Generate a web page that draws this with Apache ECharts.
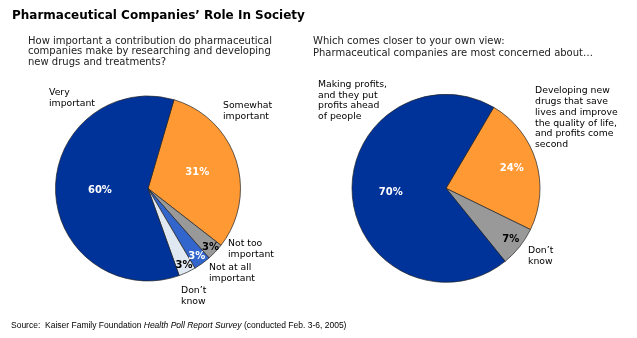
<!DOCTYPE html>
<html><head><meta charset="utf-8">
<script src="https://cdn.jsdelivr.net/npm/echarts@6/dist/echarts.min.js"></script>
<style>html,body{margin:0;padding:0;background:#fff}#chart{width:637px;height:338px}</style>
</head><body><div id="chart"></div>
<script>
// Survey results (percent of respondents)
const importanceCategories = ['Somewhat\nimportant', 'Not too\nimportant', 'Not at all\nimportant', "Don\u2019t\nknow", 'Very\nimportant'];
const importanceValues = [31, 3, 3, 3, 60];

const concernCategories = ['Developing new\ndrugs that save\nlives and improve\nthe quality of life,\nand profits come\nsecond', "Don\u2019t\nknow", 'Making profits,\nand they put\nprofits ahead\nof people'];
const concernValues = [24, 7, 70];

// Slice colours and label styling
const importanceColors = ['#FF9933', '#999999', '#3366CC', '#E0E8F1', '#003399'];
const importanceLabelColors = ['#fff', '#000', '#fff', '#000', '#fff'];
const concernColors = ['#FF9933', '#999999', '#003399'];
const concernLabelColors = ['#fff', '#000', '#fff'];

// Pie geometry
const leftPie = { cx: 148, cy: 188.5, r: 92.5, start: 16.3, labelR: [0.56, 0.93, 0.9, 0.92, 0.52] };
const rightPie = { cx: 446, cy: 188.3, r: 94, start: 30.5, labelR: [0.73, 0.88, 0.59] };

// Where each category name sits (left edge, centre of first line)
const leftNamePos = [[223, 106], [228, 244], [209, 267.5], [181, 291], [49, 92.5]];
const rightNamePos = [[535, 91], [528, 251], [318, 84.5]];

const FONT = '"DejaVu Sans", Verdana, sans-serif';

function midAngles(values, start) {
  const total = values.reduce((a, b) => a + b, 0);
  let acc = 0;
  return values.map(v => {
    const m = start + 360 * (acc + v / 2) / total;
    acc += v;
    return m;
  });
}

function pieSeries(pie, cats, vals, colors, labelColors) {
  const mids = midAngles(vals, pie.start);
  return {
    type: 'pie',
    center: [pie.cx, pie.cy],
    radius: pie.r,
    startAngle: 90 - pie.start,
    clockwise: true,
    animation: false,
    silent: true,
    avoidLabelOverlap: false,
    itemStyle: { borderColor: '#222', borderWidth: 0.7 },
    label: {
      show: true,
      position: 'inside',
      formatter: p => p.value + '%',
      fontFamily: FONT,
      fontWeight: 'bold',
      fontSize: 10
    },
    labelLine: { show: false },
    labelLayout: params => {
      const i = params.dataIndex;
      const a = mids[i] * Math.PI / 180;
      const d = pie.labelR[i] * pie.r;
      return {
        x: pie.cx + d * Math.sin(a),
        y: pie.cy - d * Math.cos(a),
        align: 'center',
        verticalAlign: 'middle'
      };
    },
    data: vals.map((v, i) => ({
      name: cats[i],
      value: v,
      itemStyle: { color: colors[i] },
      label: { color: labelColors[i] }
    }))
  };
}

function nameTexts(cats, pos, lh) {
  return cats.map((c, i) => ({
    type: 'text',
    x: pos[i][0],
    y: pos[i][1] - lh / 2,
    silent: true,
    style: { text: c, font: '9.3px ' + FONT, fill: '#000', lineHeight: lh, align: 'left', verticalAlign: 'top' }
  }));
}

const chart = echarts.init(document.getElementById('chart'), null, { renderer: 'canvas' });
chart.setOption({
  backgroundColor: '#fff',
  graphic: [
    { type: 'text', x: 12, y: 16, silent: true,
      style: { text: 'Pharmaceutical Companies\u2019 Role In Society', font: 'bold 12px ' + FONT, fill: '#000', verticalAlign: 'middle' } },
    { type: 'text', x: 28, y: 36.5, silent: true,
      style: { text: 'How important a contribution do pharmaceutical\ncompanies make by researching and developing\nnew drugs and treatments?', font: '10px ' + FONT, fill: '#222', lineHeight: 10.2, verticalAlign: 'top' } },
    { type: 'text', x: 313, y: 35, silent: true,
      style: { text: 'Which comes closer to your own view:\nPharmaceutical companies are most concerned about\u2026', font: '10px ' + FONT, fill: '#222', lineHeight: 12, verticalAlign: 'top' } },
    { type: 'text', x: 11, y: 326, silent: true,
      style: {
        text: '{n|Source:  Kaiser Family Foundation }{i|Health Poll Report Survey}{n| (conducted Feb. 3-6, 2005)}',
        verticalAlign: 'middle',
        rich: {
          n: { fontFamily: '"Liberation Sans", Arial, sans-serif', fontSize: 8.5, fill: '#000' },
          i: { fontFamily: '"Liberation Sans", Arial, sans-serif', fontSize: 8.5, fontStyle: 'italic', fill: '#000' }
        }
      } }
  ].concat(nameTexts(importanceCategories, leftNamePos, 11), nameTexts(concernCategories, rightNamePos, 10.7)),
  series: [
    pieSeries(leftPie, importanceCategories, importanceValues, importanceColors, importanceLabelColors),
    pieSeries(rightPie, concernCategories, concernValues, concernColors, concernLabelColors)
  ]
});
</script>
</body></html>
